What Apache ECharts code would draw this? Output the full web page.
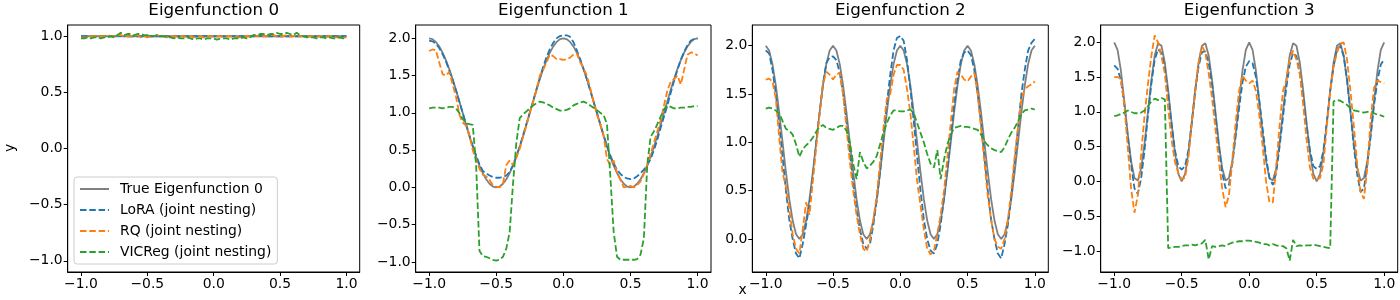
<!DOCTYPE html>
<html>
<head>
<meta charset="utf-8">
<script src="https://cdn.jsdelivr.net/npm/echarts@6/dist/echarts.min.js"></script>
<style>html,body{margin:0;padding:0;background:#fff}#c{width:1400px;height:300px}</style>
</head>
<body>
<div id="c"></div>
<script>
// ---------- DATA ----------
const xs = [
-1,-0.975,-0.95,-0.925,-0.9,-0.875,-0.85,-0.825,-0.8,-0.775,
-0.75,-0.725,-0.7,-0.675,-0.65,-0.625,-0.6,-0.575,-0.55,-0.525,
-0.5,-0.475,-0.45,-0.425,-0.4,-0.375,-0.35,-0.325,-0.3,-0.275,
-0.25,-0.225,-0.2,-0.175,-0.15,-0.125,-0.1,-0.075,-0.05,-0.025,
0,0.025,0.05,0.075,0.1,0.125,0.15,0.175,0.2,0.225,
0.25,0.275,0.3,0.325,0.35,0.375,0.4,0.425,0.45,0.475,
0.5,0.525,0.55,0.575,0.6,0.625,0.65,0.675,0.7,0.725,
0.75,0.775,0.8,0.825,0.85,0.875,0.9,0.925,0.95,0.975,
1];

const titles = ["Eigenfunction 0","Eigenfunction 1","Eigenfunction 2","Eigenfunction 3"];
const legendNames = ["True Eigenfunction 0","LoRA (joint nesting)","RQ (joint nesting)","VICReg (joint nesting)"];
const xTicks = [-1,-0.5,0,0.5,1];
const yTicks0 = [-1,-0.5,0,0.5,1];
const yTicks1 = [-1,-0.5,0,0.5,1,1.5,2];
const yTicks2 = [0,0.5,1,1.5,2];
const yTicks3 = [-1,-0.5,0,0.5,1,1.5,2];

// Eigenfunction 0
const true0 = [
1,1,1,1,1,1,1,1,1,1,
1,1,1,1,1,1,1,1,1,1,
1,1,1,1,1,1,1,1,1,1,
1,1,1,1,1,1,1,1,1,1,
1,1,1,1,1,1,1,1,1,1,
1,1,1,1,1,1,1,1,1,1,
1,1,1,1,1,1,1,1,1,1,
1,1,1,1,1,1,1,1,1,1,
1];
const lora0 = [
1.00,1.00,1.00,1.00,1.00,1.00,1.00,1.00,1.00,1.00,
1.00,1.00,1.005,1.00,1.00,1.00,1.00,1.00,1.00,1.00,
1.00,1.00,1.00,1.00,1.00,1.00,1.00,0.995,1.00,1.00,
1.00,1.00,1.00,1.00,1.00,1.00,1.00,1.00,1.00,1.00,
1.00,1.00,1.00,1.00,1.00,1.00,1.00,1.00,1.00,1.00,
1.00,1.00,1.00,1.00,1.005,1.00,1.00,1.00,1.00,1.00,
1.00,1.00,1.00,1.00,1.00,1.00,1.00,1.00,1.00,1.00,
1.00,1.00,1.00,1.00,1.00,1.00,1.00,1.00,1.00,1.00,
1.00];
const rq0 = [
0.99,0.99,0.99,1.00,1.00,1.00,1.00,1.00,1.01,1.00,
1.00,1.01,1.01,1.00,1.00,1.00,1.01,1.01,0.99,1.00,
0.99,1.00,1.00,1.01,1.00,1.00,0.99,1.00,1.00,1.00,
1.00,1.00,0.99,1.00,0.99,1.00,1.00,0.99,1.00,1.00,
1.00,1.00,1.00,1.00,1.00,1.00,1.00,0.99,0.99,1.00,
1.00,1.00,1.01,1.00,1.00,1.00,1.00,1.01,1.01,1.00,
1.00,1.00,1.01,1.00,1.00,1.01,1.00,1.00,1.00,1.00,
1.00,1.00,1.00,0.99,1.00,1.00,1.00,0.99,0.99,0.99,
0.99];
const vic0 = [
0.98,0.98,0.99,0.98,0.99,0.99,0.98,0.99,0.99,1.00,
0.99,1.01,1.03,1.01,1.02,1.02,1.01,1.02,1.02,1.01,
1.01,1.00,1.00,1.01,1.00,1.00,0.99,0.99,0.98,0.99,
0.98,0.98,0.99,0.98,0.97,0.98,0.98,0.97,0.98,0.98,
0.98,0.97,0.98,0.98,0.98,0.97,0.98,0.98,0.98,0.99,
0.98,0.99,1.01,1.01,1.02,1.02,1.01,1.02,1.02,1.03,
1.02,1.02,1.03,1.02,1.01,1.03,1.01,1.00,0.99,0.99,
0.99,0.98,0.99,0.99,0.98,0.99,0.98,0.98,0.99,0.98,
0.99];

// Eigenfunction 1
const true1 = [
2,1.988,1.951,1.891,1.809,1.707,1.588,1.454,1.309,1.156,
1,0.844,0.691,0.546,0.412,0.293,0.191,0.109,0.049,0.012,
0,0.012,0.049,0.109,0.191,0.293,0.412,0.546,0.691,0.844,
1,1.156,1.309,1.454,1.588,1.707,1.809,1.891,1.951,1.988,
2,1.988,1.951,1.891,1.809,1.707,1.588,1.454,1.309,1.156,
1,0.844,0.691,0.546,0.412,0.293,0.191,0.109,0.049,0.012,
0,0.012,0.049,0.109,0.191,0.293,0.412,0.546,0.691,0.844,
1,1.156,1.309,1.454,1.588,1.707,1.809,1.891,1.951,1.988,
2];
const lora1 = [
1.97,1.96,1.93,1.87,1.79,1.69,1.57,1.44,1.30,1.15,
1.0,0.85,0.7,0.56,0.43,0.31,0.22,0.19,0.16,0.14,
0.13,0.13,0.14,0.16,0.21,0.3,0.42,0.55,0.7,0.85,
1.0,1.16,1.32,1.47,1.62,1.75,1.86,1.94,2.0,2.03,
2.04,2.04,2.02,1.95,1.84,1.72,1.59,1.45,1.3,1.15,
1.0,0.85,0.7,0.56,0.43,0.32,0.24,0.18,0.14,0.12,
0.11,0.12,0.15,0.19,0.24,0.3,0.38,0.5,0.64,0.8,
0.95,1.1,1.27,1.43,1.58,1.71,1.82,1.91,1.97,1.99,
2.0];
const rq1 = [
1.83,1.85,1.84,1.68,1.52,1.5,1.55,1.38,1.22,0.98,
0.87,0.83,0.7,0.5,0.37,0.25,0.17,0.15,0.1,0.03,
0.01,0.0,0.05,0.3,0.36,0.3,0.4,0.52,0.68,0.83,
1.0,1.15,1.3,1.5,1.58,1.68,1.78,1.76,1.72,1.72,
1.71,1.72,1.74,1.78,1.8,1.68,1.6,1.5,1.33,1.15,
0.98,0.85,0.7,0.38,0.3,0.36,0.2,0.1,0.0,0.01,
0.02,0.0,0.03,0.08,0.18,0.3,0.45,0.6,0.75,0.9,
1.1,1.3,1.42,1.45,1.5,1.38,1.58,1.78,1.81,1.8,
1.77];
const vic1 = [
1.06,1.07,1.07,1.07,1.06,1.07,1.08,1.08,1.06,1.0,
0.92,0.86,0.85,0.84,0.3,-0.85,-0.92,-0.93,-0.95,-0.97,
-0.98,-0.97,-0.93,-0.82,-0.6,0.05,0.6,0.93,0.98,1.02,
1.06,1.1,1.13,1.15,1.14,1.12,1.1,1.07,1.05,1.03,
1.03,1.04,1.06,1.1,1.12,1.14,1.15,1.13,1.1,1.07,
1.04,1.0,0.97,0.85,0.15,-0.6,-0.93,-0.97,-0.97,-0.97,
-0.97,-0.97,-0.96,-0.9,-0.68,0.3,0.68,0.75,0.85,0.95,
1.05,1.1,1.08,1.06,1.06,1.07,1.07,1.08,1.08,1.09,
1.09];

// Eigenfunction 2
const true2 = [
2,1.951,1.809,1.588,1.309,1,0.691,0.412,0.191,0.049,
0,0.049,0.191,0.412,0.691,1,1.309,1.588,1.809,1.951,
2,1.951,1.809,1.588,1.309,1,0.691,0.412,0.191,0.049,
0,0.049,0.191,0.412,0.691,1,1.309,1.588,1.809,1.951,
2,1.951,1.809,1.588,1.309,1,0.691,0.412,0.191,0.049,
0,0.049,0.191,0.412,0.691,1,1.309,1.588,1.809,1.951,
2,1.951,1.809,1.588,1.309,1,0.691,0.412,0.191,0.049,
0,0.049,0.191,0.412,0.691,1,1.309,1.588,1.809,1.951,
2];
const lora2 = [
1.95,1.92,1.75,1.5,1.18,0.85,0.5,0.2,0.0,-0.15,
-0.2,-0.05,0.15,0.35,0.65,1.0,1.3,1.6,1.82,1.88,
1.89,1.85,1.72,1.5,1.22,0.9,0.58,0.3,0.1,-0.05,
-0.1,-0.05,0.15,0.4,0.7,1.05,1.4,1.7,1.95,2.08,
2.1,2.05,1.85,1.55,1.22,0.85,0.5,0.2,0.0,-0.12,
-0.15,-0.05,0.15,0.42,0.72,1.05,1.38,1.65,1.85,1.93,
1.95,1.9,1.75,1.5,1.2,0.85,0.5,0.2,0.0,-0.15,
-0.2,-0.05,0.15,0.45,0.8,1.15,1.5,1.75,1.95,2.03,
2.07];
const rq2 = [
1.65,1.66,1.63,1.45,1.05,0.68,0.55,0.3,0.05,-0.1,
-0.15,0.1,0.38,0.25,0.6,0.95,1.3,1.6,1.73,1.7,
1.65,1.7,1.72,1.5,1.15,0.8,0.5,0.25,0.05,-0.1,
-0.13,0.0,0.2,0.45,0.8,1.15,1.45,1.5,1.7,1.8,
1.8,1.75,1.55,1.3,0.95,0.6,0.35,0.1,-0.1,-0.16,
-0.12,0.05,0.25,0.5,0.85,1.2,1.55,1.73,1.7,1.65,
1.63,1.68,1.72,1.5,1.15,0.8,0.45,0.2,0.0,-0.08,
-0.1,0.0,0.2,0.5,0.85,1.15,1.45,1.55,1.58,1.6,
1.63];
const vic2 = [
1.35,1.36,1.35,1.33,1.3,1.22,1.14,1.12,1.08,0.98,
0.85,0.93,0.97,1.0,1.05,1.11,1.16,1.18,1.15,1.14,
1.13,1.15,1.17,1.17,1.12,1.0,0.78,0.62,0.9,0.8,
0.73,0.76,0.8,0.86,0.98,1.1,1.2,1.28,1.33,1.33,
1.32,1.32,1.33,1.34,1.3,1.2,1.1,1.0,0.88,0.78,
0.74,0.92,0.62,0.82,0.98,1.08,1.15,1.16,1.17,1.16,
1.16,1.15,1.14,1.13,1.08,1.01,0.97,0.94,0.92,0.91,
0.9,0.95,1.03,1.1,1.15,1.22,1.29,1.33,1.34,1.35,
1.34];

// Eigenfunction 3
const true3 = [
2,1.891,1.588,1.156,0.691,0.293,0.049,0.012,0.191,0.546,
1,1.454,1.809,1.988,1.951,1.707,1.309,0.844,0.412,0.109,
0,0.109,0.412,0.844,1.309,1.707,1.951,1.988,1.809,1.454,
1,0.546,0.191,0.012,0.049,0.293,0.691,1.156,1.588,1.891,
2,1.891,1.588,1.156,0.691,0.293,0.049,0.012,0.191,0.546,
1,1.454,1.809,1.988,1.951,1.707,1.309,0.844,0.412,0.109,
0,0.109,0.412,0.844,1.309,1.707,1.951,1.988,1.809,1.454,
1,0.546,0.191,0.012,0.049,0.293,0.691,1.156,1.588,1.891,
2];
const lora3 = [
1.67,1.62,1.45,1.1,0.65,0.25,-0.1,-0.18,0.05,0.45,
0.95,1.4,1.75,1.9,1.85,1.62,1.25,0.82,0.45,0.22,
0.17,0.22,0.45,0.85,1.3,1.65,1.86,1.87,1.7,1.4,
0.95,0.5,0.12,-0.1,-0.05,0.25,0.65,1.05,1.42,1.65,
1.73,1.7,1.5,1.15,0.75,0.35,0.05,-0.05,0.12,0.5,
0.92,1.35,1.68,1.85,1.8,1.55,1.2,0.8,0.45,0.22,
0.18,0.22,0.45,0.85,1.3,1.65,1.9,1.95,1.8,1.45,
1.0,0.5,0.1,-0.15,-0.1,0.25,0.65,1.1,1.45,1.68,
1.76];
const rq3 = [
1.5,1.5,1.48,1.1,0.5,-0.1,-0.45,-0.2,0.4,0.95,
1.4,1.8,2.1,2.0,1.8,1.55,1.05,0.6,0.28,0.12,
0.03,0.05,0.35,0.85,1.3,1.7,1.95,1.85,1.55,1.2,
0.75,0.3,-0.1,-0.37,-0.2,0.3,0.85,1.3,1.52,1.45,
1.41,1.45,1.3,0.95,0.5,0.0,-0.3,-0.3,0.2,0.8,
1.3,1.45,1.75,1.88,1.75,1.55,1.1,0.6,0.2,0.04,
0.03,0.05,0.25,0.8,1.3,1.65,1.85,1.98,2.0,1.75,
1.3,0.8,0.25,-0.15,-0.25,0.2,0.9,1.35,1.45,1.43,
1.41];
const vic3 = [
0.94,0.95,0.97,0.99,1.02,1.0,0.98,0.98,0.99,1.02,
1.08,1.15,1.19,1.17,1.2,1.18,-0.96,-0.95,-0.94,-0.94,
-0.93,-0.92,-0.92,-0.91,-0.92,-0.9,-0.89,-0.84,-1.12,-0.93,
-0.94,-0.93,-0.92,-0.93,-0.9,-0.88,-0.87,-0.86,-0.86,-0.85,
-0.85,-0.86,-0.87,-0.88,-0.9,-0.9,-0.92,-0.9,-0.92,-0.93,
-0.93,-0.96,-1.14,-0.84,-0.93,-0.92,-0.93,-0.92,-0.92,-0.91,
-0.92,-0.93,-0.94,-0.95,-0.96,1.15,1.17,1.16,1.13,1.1,
1.05,1.02,1.01,1.0,0.99,1.0,1.01,0.98,0.96,0.95,
0.93];

// ---------- CHART ----------
const FONT = 'DejaVu Sans';
const TICK_FS = 13.9, TITLE_FS = 16.7, LEG_FS = 13.9;
const C_TRUE = '#808080', C_LORA = '#1f77b4', C_RQ = '#ff7f0e', C_VIC = '#2ca02c';
const DASH = [6.5, 2.8];
const LW = 1.8;

const panels = [
  {left:67.7, width:292, yMin:-1.1, yMax:1.1, yTicks:yTicks0, series:[true0,lora0,rq0,vic0]},
  {left:415.7, width:295.3, yMin:-1.134, yMax:2.178, yTicks:yTicks1, series:[true1,lora1,rq1,vic1]},
  {left:752.3, width:296, yMin:-0.341, yMax:2.214, yTicks:yTicks2, series:[true2,lora2,rq2,vic2]},
  {left:1100.7, width:297, yMin:-1.302, yMax:2.249, yTicks:yTicks3, series:[true3,lora3,rq3,vic3]}
];
const TOP = 25, HEIGHT = 247;

const fmt = v => v.toFixed(1).replace('-', '\u2212');
const zip = ys => xs.map((x, i) => [x, ys[i]]);

const grid = [], xAxis = [], yAxis = [], series = [], title = [];
panels.forEach((p, i) => {
  grid.push({left:p.left, top:TOP, width:p.width, height:HEIGHT, show:true,
    borderColor:'#000', borderWidth:1, backgroundColor:'transparent'});
  const axisCommon = {
    type:'value', gridIndex:i,
    splitLine:{show:false}, splitArea:{show:false},
    axisLine:{show:true, onZero:false, lineStyle:{color:'#000', width:1}},
    axisTick:{show:true, inside:false, length:4, lineStyle:{color:'#000', width:1}},
    axisLabel:{show:true, color:'#000', fontSize:TICK_FS, fontFamily:FONT, margin:5, formatter:fmt}
  };
  xAxis.push(Object.assign({}, axisCommon, {
    min:-1.1, max:1.1,
    axisTick:Object.assign({}, axisCommon.axisTick, {customValues:xTicks}),
    axisLabel:Object.assign({}, axisCommon.axisLabel, {customValues:xTicks})
  }));
  yAxis.push(Object.assign({}, axisCommon, {
    min:p.yMin, max:p.yMax,
    axisTick:Object.assign({}, axisCommon.axisTick, {customValues:p.yTicks}),
    axisLabel:Object.assign({}, axisCommon.axisLabel, {customValues:p.yTicks})
  }));
  title.push({text:titles[i], left:p.left + p.width/2, top:2, textAlign:'center', padding:0,
    textStyle:{fontFamily:FONT, fontSize:TITLE_FS, fontWeight:'normal', color:'#000'}});
  const names = i === 0 ? legendNames : ['True Eigenfunction ' + i, legendNames[1], legendNames[2], legendNames[3]];
  const cols = [C_TRUE, C_LORA, C_RQ, C_VIC];
  p.series.forEach((ys, j) => {
    series.push({
      type:'line', name:names[j], xAxisIndex:i, yAxisIndex:i,
      data:zip(ys), symbol:'none', showSymbol:false, smooth:false, animation:false,
      clip:true,
      lineStyle:{color:cols[j], width:LW, type: j === 0 ? 'solid' : DASH},
      itemStyle:{color:cols[j]},
      emphasis:{disabled:true}
    });
  });
});

const chart = echarts.init(document.getElementById('c'), null, {renderer:'canvas'});
chart.setOption({
  backgroundColor:'#fff',
  animation:false,
  title:title,
  grid:grid, xAxis:xAxis, yAxis:yAxis, series:series,
  legend:{
    data:legendNames, orient:'vertical', left:74, top:177,
    itemWidth:29, itemHeight:14, itemGap:7,
    padding:[5, 6, 5, 5],
    itemStyle:{opacity:0, color:'rgba(0,0,0,0)', borderWidth:0},
    backgroundColor:'rgba(255,255,255,0.8)', borderColor:'#cccccc', borderWidth:1, borderRadius:3,
    textStyle:{fontFamily:FONT, fontSize:LEG_FS, color:'#000', lineHeight:14, padding:[0,0,0,6]},
    selectedMode:false
  },
  graphic:[
    {type:'text', x:10, y:148, rotation:Math.PI/2,
      style:{text:'y', font:'13.9px "DejaVu Sans"', fill:'#000', align:'center', verticalAlign:'middle'}},
    {type:'text', x:742.7, y:290,
      style:{text:'x', font:'13.9px "DejaVu Sans"', fill:'#000', align:'center', verticalAlign:'middle'}}
  ]
});
</script>
</body>
</html>
